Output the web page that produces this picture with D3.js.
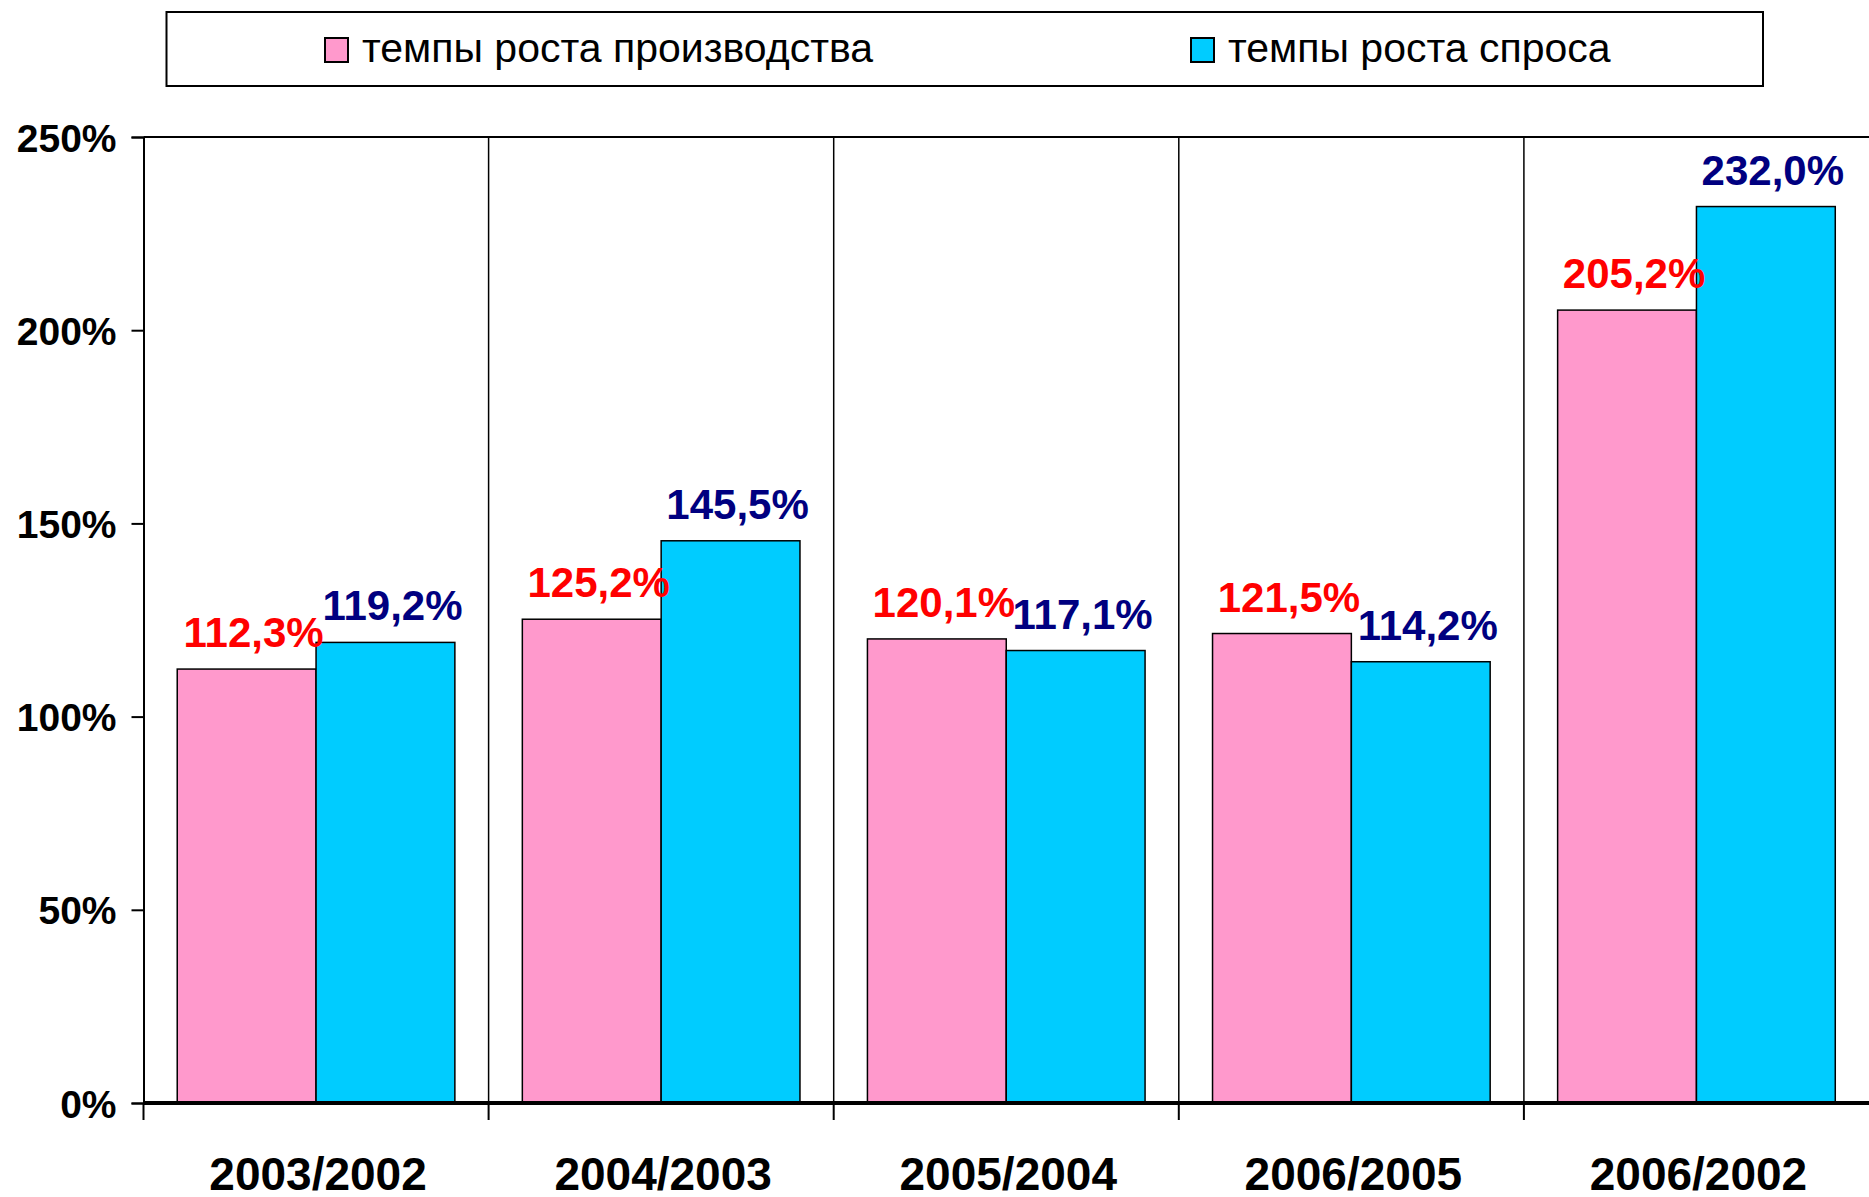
<!DOCTYPE html>
<html>
<head>
  <meta charset="UTF-8">
  <title>Темпы роста</title>
  <script src="https://cdn.jsdelivr.net/npm/d3@7"></script>
  <style>
    body { margin: 0; background: #fff; }
    text { font-family: "Liberation Sans", Arial, Helvetica, sans-serif; }
  </style>
</head>
<body>
<script>
  // data
  var categories = ["2003/2002", "2004/2003", "2005/2004", "2006/2005", "2006/2002"];
  var production = [112.3, 125.2, 120.1, 121.5, 205.2];
  var demand = [119.2, 145.5, 117.1, 114.2, 232.0];
  var seriesNames = ["темпы роста производства", "темпы роста спроса"];
  var yTicks = [0, 50, 100, 150, 200, 250];

  var width = 1869, height = 1197;
  var fills = ["#ff99cc", "#00ccff"];
  var labelColors = ["#ff0000", "#000080"];

  var svg = d3.select("body").append("svg")
    .attr("width", width)
    .attr("height", height);

  var plotLeft = 143.5, plotRight = 1869, plotTop = 137, plotBottom = 1103;

  var x0 = d3.scaleBand().domain(categories).range([plotLeft, plotRight]).padding(0);
  var x1 = d3.scaleBand().domain([0, 1]).range([0, x0.bandwidth()])
    .paddingInner(0).paddingOuter(0.243);
  var y = d3.scaleLinear().domain([0, 250]).range([plotBottom, plotTop]);

  var rows = categories.map(function (c, i) {
    return { cat: c, values: [production[i], demand[i]] };
  });

  // plot frame: top line + category separators
  svg.append("line")
    .attr("x1", plotLeft).attr("x2", plotRight)
    .attr("y1", plotTop).attr("y2", plotTop)
    .attr("stroke", "#000").attr("stroke-width", 2);

  svg.selectAll(".sep")
    .data(categories.slice(1))
    .enter().append("line")
    .attr("class", "sep")
    .attr("x1", function (d) { return x0(d); })
    .attr("x2", function (d) { return x0(d); })
    .attr("y1", plotTop).attr("y2", plotBottom)
    .attr("stroke", "#000").attr("stroke-width", 1.5);

  // bars
  var group = svg.selectAll(".grp")
    .data(rows)
    .enter().append("g")
    .attr("class", "grp")
    .attr("transform", function (d) { return "translate(" + x0(d.cat) + ",0)"; });

  group.selectAll("rect")
    .data(function (d) { return d.values; })
    .enter().append("rect")
    .attr("x", function (d, i) { return x1(i); })
    .attr("y", function (d) { return y(d); })
    .attr("width", x1.bandwidth())
    .attr("height", function (d) { return y(0) - y(d); })
    .attr("fill", function (d, i) { return fills[i]; })
    .attr("stroke", "#000")
    .attr("stroke-width", 1.5);

  group.selectAll(".lbl")
    .data(function (d) { return d.values; })
    .enter().append("text")
    .attr("class", "lbl")
    .attr("x", function (d, i) { return x1(i) + x1.bandwidth() / 2 + 7; })
    .attr("y", function (d) { return y(d) - 22; })
    .attr("text-anchor", "middle")
    .attr("fill", function (d, i) { return labelColors[i]; })
    .style("font-size", "42px")
    .style("font-weight", "bold")
    .text(function (d) { return d.toFixed(1).replace(".", ",") + "%"; });

  // y axis
  var yAxis = d3.axisLeft(y)
    .tickValues(yTicks)
    .tickSize(12)
    .tickPadding(15)
    .tickFormat(function (d) { return d + "%"; });

  var ya = svg.append("g")
    .attr("transform", "translate(" + plotLeft + ",0)")
    .call(yAxis);
  ya.select(".domain").attr("stroke", "#000").attr("stroke-width", 2);
  ya.selectAll(".tick line").attr("stroke", "#000").attr("stroke-width", 2);
  ya.selectAll(".tick text")
    .attr("fill", "#000")
    .attr("dy", "0.36em")
    .style("font-size", "39px")
    .style("font-weight", "bold")
    .style("font-family", "'Liberation Sans', Arial, sans-serif");

  // x axis line with ticks at category boundaries
  svg.append("line")
    .attr("x1", plotLeft).attr("x2", plotRight)
    .attr("y1", plotBottom).attr("y2", plotBottom)
    .attr("stroke", "#000").attr("stroke-width", 4);

  svg.selectAll(".xtick")
    .data(categories)
    .enter().append("line")
    .attr("class", "xtick")
    .attr("x1", function (d) { return x0(d); })
    .attr("x2", function (d) { return x0(d); })
    .attr("y1", plotBottom).attr("y2", plotBottom + 17)
    .attr("stroke", "#000").attr("stroke-width", 2);

  svg.selectAll(".xlbl")
    .data(categories)
    .enter().append("text")
    .attr("class", "xlbl")
    .attr("x", function (d) { return x0(d) + x0.bandwidth() / 2 + 2; })
    .attr("y", 1190)
    .attr("text-anchor", "middle")
    .style("font-size", "46px")
    .style("font-weight", "bold")
    .text(function (d) { return d; });

  // legend
  svg.append("rect")
    .attr("x", 166.5).attr("y", 12)
    .attr("width", 1763 - 166.5).attr("height", 74)
    .attr("fill", "#fff")
    .attr("stroke", "#000").attr("stroke-width", 2);

  var legendX = [325, 1191];
  var leg = svg.selectAll(".leg")
    .data(seriesNames)
    .enter().append("g")
    .attr("class", "leg")
    .attr("transform", function (d, i) { return "translate(" + legendX[i] + ",38)"; });

  leg.append("rect")
    .attr("width", 23).attr("height", 24)
    .attr("fill", function (d, i) { return fills[i]; })
    .attr("stroke", "#000").attr("stroke-width", 2);

  leg.append("text")
    .attr("x", 37)
    .attr("y", 24)
    .style("font-size", "41px")
    .text(function (d) { return d; });
</script>
</body>
</html>
